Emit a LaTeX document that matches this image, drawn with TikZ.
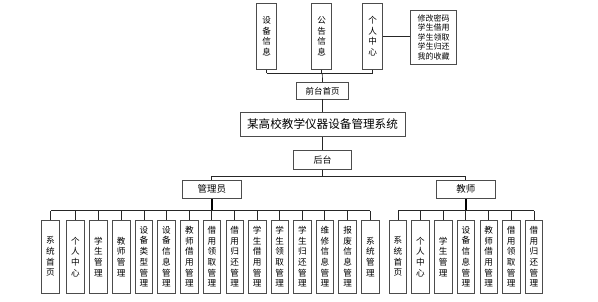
\documentclass[tikz,border=0pt]{standalone}
\usepackage{fontspec}
\setmainfont{Noto Sans CJK SC}
\begin{document}
\begin{tikzpicture}[x=1pt,y=-1pt,
  box/.style={draw=black!70,line width=0.9pt,fill=white,inner sep=0pt,align=center},
  leaf/.style={box,minimum width=17.5pt,minimum height=73.3pt,font=\fontsize{8.6}{10.7}\selectfont},
  topbox/.style={box,minimum width=20pt,minimum height=65.7pt,font=\fontsize{8.6}{10.4}\selectfont},
  conn/.style={draw=black!85,line width=0.7pt},
  thick conn/.style={draw=black,line width=1.6pt}]
\useasboundingbox (0,0) rectangle (598,301);
% top row
\node[topbox] (t1) at (266.7,36.2) {设\\备\\信\\息};
\node[topbox] (t2) at (321.7,36.2) {公\\告\\信\\息};
\node[topbox] (t3) at (372.7,36.2) {个\\人\\中\\心};
\node[box,minimum width=46pt,minimum height=54pt,font=\fontsize{8}{9.5}\selectfont] (side) at (433.7,37)
  {修改密码\\学生借用\\学生领取\\学生归还\\我的收藏};
\node[box,minimum width=51.6pt,minimum height=16.3pt,font=\fontsize{8.5}{10}\selectfont] (front) at (322.5,90.8) {前台首页};
\node[box,minimum width=165pt,minimum height=24.4pt,font=\fontsize{11.6}{14}\selectfont] (main) at (322.5,124.5) {某高校教学仪器设备管理系统};
\node[box,minimum width=58.4pt,minimum height=18.6pt,font=\fontsize{9}{11}\selectfont] (back) at (322.5,160) {后台};
\node[box,minimum width=58.3pt,minimum height=18.3pt,font=\fontsize{9.5}{11}\selectfont] (adm) at (211.8,189.2) {管理员};
\node[box,minimum width=58.3pt,minimum height=18.3pt,font=\fontsize{9.5}{11}\selectfont] (tea) at (465.8,189.2) {教师};
\coordinate (topbus) at (322.3,73.3);
\coordinate (midbus) at (322.5,176);
\coordinate (abus) at (211.8,210.7);
\coordinate (tbus) at (465.8,210.7);
% admin leaves
\node[leaf] (a1) at (50.5,256.7) {系\\统\\首\\页};
\node[leaf] (a2) at (75.5,256.7) {个\\人\\中\\心};
\node[leaf] (a3) at (98.5,256.7) {学\\生\\管\\理};
\node[leaf] (a4) at (121.2,256.7) {教\\师\\管\\理};
\node[leaf] (a5) at (143.9,256.7) {设\\备\\类\\型\\管\\理};
\node[leaf] (a6) at (166.5,256.7) {设\\备\\信\\息\\管\\理};
\node[leaf] (a7) at (189.4,256.7) {教\\师\\借\\用\\管\\理};
\node[leaf] (a8) at (211.8,256.7) {借\\用\\领\\取\\管\\理};
\node[leaf] (a9) at (234.7,256.7) {借\\用\\归\\还\\管\\理};
\node[leaf] (a10) at (257.2,256.7) {学\\生\\借\\用\\管\\理};
\node[leaf] (a11) at (279.7,256.7) {学\\生\\领\\取\\管\\理};
\node[leaf] (a12) at (302.5,256.7) {学\\生\\归\\还\\管\\理};
\node[leaf] (a13) at (324.8,256.7) {维\\修\\信\\息\\管\\理};
\node[leaf] (a14) at (347.6,256.7) {报\\废\\信\\息\\管\\理};
\node[leaf] (a15) at (370.3,256.7) {系\\统\\管\\理};
% teacher leaves
\node[leaf] (b1) at (398,256.7) {系\\统\\首\\页};
\node[leaf] (b2) at (420.4,256.7) {个\\人\\中\\心};
\node[leaf] (b3) at (443.2,256.7) {学\\生\\管\\理};
\node[leaf] (b4) at (465.8,256.7) {设\\备\\信\\息\\管\\理};
\node[leaf] (b5) at (488.7,256.7) {教\\师\\借\\用\\管\\理};
\node[leaf] (b6) at (511.2,256.7) {借\\用\\领\\取\\管\\理};
\node[leaf] (b7) at (534,256.7) {借\\用\\归\\还\\管\\理};
% connectors top
\foreach \n in {t1,t2,t3} \draw[conn] (\n.south) -- (\n.south |- topbus);
\draw[conn] (t1.south |- topbus) -- (t3.south |- topbus);
\draw[conn] (topbus) -- (front.north);
\draw[conn] (t3.east) -- (side.west |- t3.east);
\draw[conn] (front.south) -- (main.north -| front.south);
\draw[conn] (main.south) -- (back.north);
\draw[conn] (back.south) -- (midbus);
\draw[conn] (adm.north) -- (adm.north |- midbus) -- (tea.north |- midbus) -- (tea.north);
% admin bus
\draw[thick conn] (adm.south) -- (abus);
\draw[conn] (a1.north |- abus) -- (a15.north |- abus);
\foreach \i in {1,...,15} \draw[conn] (a\i.north) -- (a\i.north |- abus);
% teacher bus
\draw[thick conn] (tea.south) -- (tbus);
\draw[conn] (b1.north |- tbus) -- (b7.north |- tbus);
\foreach \i in {1,...,7} \draw[conn] (b\i.north) -- (b\i.north |- tbus);
\end{tikzpicture}
\end{document}
